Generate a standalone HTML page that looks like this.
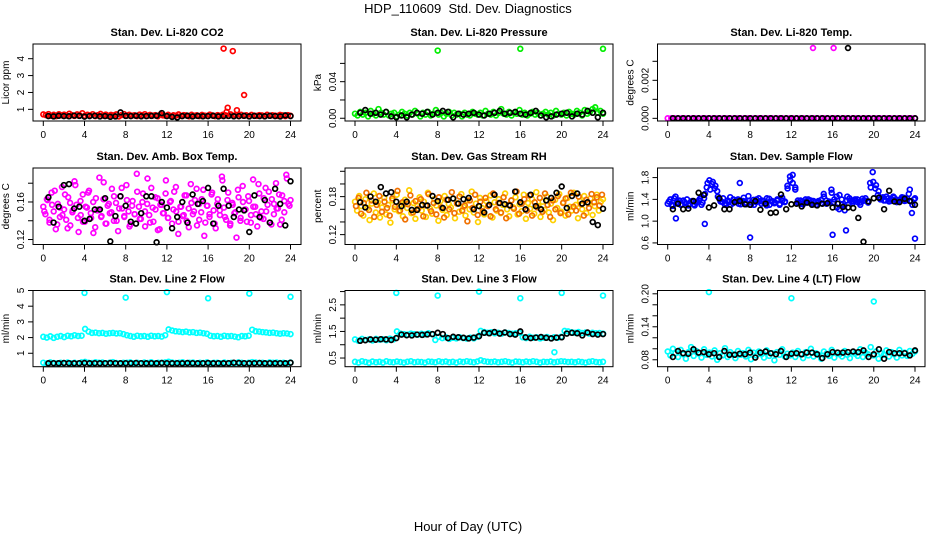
<!DOCTYPE html>
<html><head><meta charset="utf-8"><style>
html,body{margin:0;padding:0;background:#fff;}
svg{display:block;font-family:"Liberation Sans",Arial,sans-serif;}
</style></head><body>
<svg id="chart" width="936" height="540" viewBox="0 0 936 540">
<text x="468" y="13" text-anchor="middle" font-size="13">HDP_110609&#160; Std. Dev. Diagnostics</text>
<text x="468" y="531" text-anchor="middle" font-size="13">Hour of Day (UTC)</text>
</svg>
<script>
// ---- data arrays ----
const xTickLabels = [0,4,8,12,16,20,24];

const co2Red = [0.70,0.66,0.72,0.62,0.68,0.60,0.71,0.64,0.69,0.63,0.74,0.66,0.61,0.70,0.65,0.77,0.62,0.68,0.64,0.71,0.60,0.66,0.73,0.63,
0.69,0.61,0.67,0.64,0.70,0.58,0.66,0.72,0.62,0.68,0.63,0.65,0.60,0.69,0.64,0.71,0.61,0.67,0.63,0.66,0.59,0.70,0.64,0.62,
0.68,0.60,0.65,0.63,0.70,0.61,0.66,0.64,0.59,0.68,0.62,0.65,0.60,0.67,0.63,0.61,0.69,0.64,0.60,0.66,0.62,0.68,0.65,0.61,
0.70,0.63,0.66,0.60,0.68,0.62,0.65,0.59,0.67,0.63,0.61,0.66,0.64,0.60,0.68,0.62,0.65,0.63,0.61,0.67,0.64,0.60,0.66,0.62];
const co2Black = [0.60,0.58,0.62,0.60,0.59,0.63,0.61,0.57,0.60,0.62,0.58,0.60,0.56,0.58,0.82,0.61,0.60,0.62,0.59,0.60,0.61,0.62,0.78,0.60,0.55,0.52,0.60,0.62,0.58,0.61,0.59,0.60,0.62,0.58,0.60,0.61,0.59,0.60,0.62,0.58,0.61,0.60,0.59,0.62,0.60,0.58,0.64,0.60];
const co2OutHours = [17.5,18.4,19.5,17.9,18.8,17.8];
const co2OutVals = [4.6,4.45,1.85,1.1,0.95,0.85];

const presGreen = [0.005,0.003,0.007,0.004,0.006,0.002,0.008,0.005,0.003,0.010,0.006,0.004,0.007,0.003,0.005,0.006,0.002,0.004,0.007,0.005,0.003,0.006,0.004,0.008,
0.005,0.002,0.006,0.004,0.007,0.003,0.005,0.009,0.004,0.006,0.002,0.005,0.007,0.003,0.006,0.004,0.005,0.002,0.006,0.004,0.003,0.007,0.005,0.004,
0.006,0.003,0.008,0.005,0.004,0.007,0.003,0.006,0.010,0.005,0.004,0.007,0.003,0.006,0.005,0.009,0.004,0.006,0.003,0.005,0.007,0.004,0.006,0.003,
0.005,0.007,0.004,0.006,0.003,0.008,0.005,0.004,0.006,0.003,0.007,0.005,0.004,0.008,0.006,0.003,0.009,0.005,0.007,0.010,0.012,0.006,0.008,0.005];
const presBlack = [0.006,0.009,0.005,0.006,0.004,0.007,0.002,0.001,0.003,0.001,0.004,0.006,0.005,0.007,0.004,0.006,0.008,0.007,0.001,0.005,0.004,0.005,0.006,0.004,0.003,0.005,0.006,0.008,0.005,0.006,0.007,0.005,0.004,0.006,0.008,0.003,0.001,0.002,0.004,0.005,0.006,0.002,0.005,0.004,0.008,0.006,0.001,0.006];
const presOutHours = [8,16,24];
const presOutVals = [0.074,0.076,0.076];

const tempMagenta = [0,0,0,0,0,0,0,0,0,0,0,0,0,0,0,0,0,0,0,0,0,0,0,0,0,0,0,0,0,0,0,0,0,0,0,0,0,0,0,0,0,0,0,0,0,0,0,0,0,0,0,0,0,0,0,0,0,0,0,0,0,0,0,0,0,0,0,0,0,0,0,0];
const tempBlack = [0,0,0,0,0,0,0,0,0,0,0,0,0,0,0,0,0,0,0,0,0,0,0,0,0,0,0,0,0,0,0,0,0,0,0,0,0,0,0,0,0,0,0,0,0,0,0,0];
const tempOutHours = [14.1,16.1];
const tempOutVals = [0.0037,0.0037];
const tempBlackOutHours = [17.5];
const tempBlackOutVals = [0.0037];

const boxA = [0.155,0.147,0.162,0.138,0.170,0.150,0.131,0.158,0.144,0.176,0.152,0.141,0.165,0.135,0.149,0.182,0.157,0.128,0.146,0.168,
0.139,0.154,0.172,0.143,0.160,0.133,0.151,0.186,0.145,0.163,0.137,0.156,0.148,0.174,0.140,0.159,0.129,0.166,0.153,0.144,
0.178,0.150,0.136,0.161,0.147,0.190,0.155,0.142,0.169,0.134,0.158,0.146,0.175,0.139,0.152,0.164,0.131,0.157,0.148,0.183,
0.143,0.160,0.137,0.171,0.150,0.126,0.155,0.145,0.167,0.140,0.153,0.179,0.147,0.162,0.135,0.158,0.149,0.173,0.138,0.156,
0.144,0.168,0.151,0.132,0.163,0.146,0.187,0.154,0.141,0.170,0.137,0.159,0.148,0.122,0.165,0.143,0.177,0.152,0.139,0.161,
0.146,0.184,0.155,0.134,0.169,0.150,0.142,0.175,0.157,0.138,0.163,0.147,0.180,0.153,0.136,0.167,0.149,0.189,0.158,0.162];
const boxB = [0.150,0.163,0.141,0.157,0.172,0.136,0.154,0.146,0.168,0.132,0.159,0.151,0.178,0.143,0.161,0.139,0.155,0.170,0.148,0.127,0.164,0.152,0.144,0.181,
0.137,0.158,0.149,0.166,0.140,0.153,0.175,0.145,0.162,0.134,0.156,0.147,0.171,0.142,0.160,0.150,0.185,0.138,0.154,0.165,0.130,0.157,0.148,0.169,
0.143,0.161,0.152,0.176,0.139,0.155,0.146,0.167,0.133,0.159,0.150,0.174,0.141,0.163,0.124,0.156,0.147,0.170,0.137,0.158,0.151,0.183,0.144,0.162,
0.135,0.157,0.149,0.173,0.140,0.160,0.152,0.166,0.138,0.155,0.147,0.179,0.143,0.164,0.150,0.171,0.136,0.158,0.153,0.168,0.141,0.161,0.185,0.156];
const boxBlack = [0.165,0.138,0.155,0.178,0.179,0.153,0.155,0.140,0.142,0.152,0.152,0.164,0.118,0.145,0.166,0.156,0.139,0.137,0.148,0.166,0.166,0.117,0.160,0.154,0.132,0.144,0.160,0.138,0.168,0.158,0.161,0.175,0.137,0.156,0.174,0.156,0.144,0.152,0.151,0.128,0.167,0.144,0.162,0.138,0.174,0.158,0.135,0.182];

const rhA = [0.172,0.158,0.181,0.165,0.150,0.176,0.162,0.143,0.169,0.185,0.155,0.171,0.147,0.163,0.178,0.152,0.167,0.139,0.174,0.160,
0.183,0.157,0.168,0.149,0.175,0.162,0.190,0.154,0.170,0.145,0.165,0.179,0.158,0.172,0.148,0.186,0.161,0.153,0.176,0.166,
0.142,0.173,0.159,0.181,0.151,0.168,0.163,0.177,0.146,0.170,0.156,0.184,0.164,0.150,0.174,0.160,0.188,0.155,0.169,0.140,
0.178,0.162,0.152,0.173,0.166,0.182,0.147,0.171,0.158,0.176,0.154,0.167,0.185,0.160,0.149,0.174,0.163,0.179,0.152,0.168,
0.157,0.183,0.145,0.170,0.161,0.176,0.153,0.187,0.165,0.148,0.172,0.159,0.180,0.155,0.169,0.143,0.175,0.162,0.184,0.156,
0.171,0.150,0.178,0.164,0.158,0.186,0.167,0.146,0.173,0.160,0.181,0.154,0.169,0.177,0.151,0.165,0.183,0.158,0.172,0.176];
const rhB = [0.165,0.178,0.153,0.170,0.186,0.159,0.174,0.148,0.167,0.181,0.156,0.172,0.162,0.150,0.177,0.164,0.189,0.158,0.171,0.144,0.168,0.182,0.155,0.173,
0.161,0.176,0.149,0.166,0.184,0.157,0.170,0.152,0.179,0.163,0.147,0.175,0.160,0.187,0.154,0.169,0.180,0.158,0.166,0.141,0.174,0.162,0.183,0.151,
0.172,0.157,0.178,0.165,0.149,0.185,0.160,0.170,0.155,0.179,0.146,0.167,0.174,0.161,0.188,0.153,0.169,0.176,0.158,0.182,0.150,0.171,0.163,0.178,
0.156,0.185,0.167,0.148,0.174,0.160,0.181,0.154,0.170,0.177,0.152,0.186,0.164,0.158,0.180,0.168,0.150,0.175,0.162,0.184,0.171,0.179,0.166,0.183];
const rhBlack = [0.171,0.163,0.180,0.172,0.195,0.185,0.187,0.172,0.165,0.172,0.159,0.159,0.167,0.166,0.181,0.173,0.162,0.175,0.177,0.169,0.176,0.178,0.160,0.165,0.155,0.167,0.183,0.170,0.168,0.166,0.188,0.171,0.160,0.183,0.165,0.160,0.174,0.178,0.186,0.196,0.162,0.181,0.185,0.169,0.171,0.140,0.135,0.161];

const flowBlue = [1.32,1.40,1.28,1.45,1.35,1.30,1.38,1.33,1.29,1.36,1.31,1.34,1.38,1.30,1.42,
1.62,1.75,1.68,1.60,1.55,
1.40,1.35,1.30,1.38,1.44,1.33,1.36,1.40,1.31,1.37,1.34,1.46,1.30,1.39,1.35,1.42,1.32,1.37,1.29,1.41,1.36,1.33,1.38,1.30,1.43,1.35,
1.65,1.82,1.70,1.58,
1.34,1.38,1.31,1.36,1.40,1.33,1.37,1.30,1.35,1.39,1.45,1.32,1.36,
1.52,1.40,1.25,1.48,1.30,1.20,1.45,
1.38,1.33,1.40,1.35,1.30,1.37,1.42,1.34,
1.62,1.72,1.66,1.55,
1.42,1.38,1.45,1.36,1.40,1.43,1.35,1.39,1.44,1.37,1.41,1.58,1.30,1.42];
const flowBlueB = [1.36,1.30,1.42,1.33,1.38,1.31,1.35,1.40,1.32,1.37,1.29,1.36,1.41,1.34,1.50,
1.70,1.58,1.72,1.65,1.45,
1.36,1.42,1.33,1.35,1.30,1.40,1.38,1.32,1.36,1.43,1.31,1.37,1.34,1.30,1.40,1.36,1.38,1.33,1.42,1.30,1.37,1.35,1.40,1.32,1.38,1.36,
1.60,1.75,1.85,1.62,
1.38,1.32,1.36,1.40,1.34,1.38,1.31,1.35,1.37,1.33,1.50,1.38,1.34,
1.58,1.35,1.45,1.22,1.40,1.28,1.38,
1.42,1.36,1.38,1.40,1.34,1.41,1.38,1.36,
1.70,1.90,1.60,1.48,
1.40,1.44,1.38,1.42,1.37,1.45,1.40,1.36,1.41,1.43,1.38,1.50,1.36,1.40];
const flowOutHours = [0.8,3.6,8.0,16.0,17.3,24.0,7.0,23.7];
const flowOutVals = [1.05,0.95,0.70,0.75,0.83,0.68,1.70,1.15];
const flowBlack = [1.22,1.32,1.22,1.23,1.37,1.52,1.48,1.25,1.29,1.42,1.22,1.22,1.35,1.37,1.31,1.30,1.37,1.21,1.32,1.15,1.16,1.49,1.22,1.31,1.32,1.27,1.34,1.30,1.29,1.32,1.33,1.25,1.32,1.26,1.25,1.24,1.06,0.62,1.36,1.42,1.43,1.22,1.56,1.36,1.35,1.41,1.37,1.30];

const line2Upper = [2.05,2.00,2.08,1.98,2.05,2.10,2.03,2.12,2.08,2.15,2.10,2.12,
2.55,2.38,2.30,2.32,2.28,2.30,2.25,2.28,2.30,2.26,2.28,2.22,
2.15,2.10,2.05,2.12,2.08,2.10,2.05,2.12,2.08,2.10,2.06,2.15,
2.52,2.45,2.40,2.38,2.35,2.38,2.33,2.35,2.30,2.32,2.28,2.25,
2.12,2.08,2.10,2.05,2.12,2.08,2.10,2.06,2.02,2.10,2.08,2.12,
2.50,2.40,2.38,2.35,2.33,2.30,2.32,2.28,2.25,2.28,2.26,2.22];
const line2Lower = [0.40,0.35,0.42,0.38,0.36,0.40,0.37,0.41,0.36,0.39,0.35,0.42,0.45,0.40,0.38,0.43,0.39,0.41,0.37,0.40,0.44,0.38,0.36,0.40,
0.39,0.42,0.37,0.40,0.36,0.41,0.38,0.43,0.37,0.40,0.39,0.42,0.46,0.41,0.38,0.40,0.43,0.37,0.39,0.41,0.36,0.40,0.38,0.42,
0.37,0.40,0.39,0.36,0.41,0.38,0.40,0.37,0.42,0.39,0.36,0.40,0.44,0.41,0.38,0.40,0.37,0.42,0.39,0.41,0.38,0.40,0.37,0.41];
const line2Black = [0.36,0.37,0.36,0.38,0.37,0.36,0.37,0.38,0.36,0.37,0.36,0.37,0.38,0.37,0.36,0.37,0.36,0.38,0.37,0.36,0.37,0.36,0.38,0.37,0.36,0.37,0.36,0.38,0.37,0.36,0.37,0.38,0.36,0.37,0.36,0.37,0.40,0.38,0.37,0.36,0.37,0.38,0.36,0.37,0.36,0.37,0.36,0.40];
const line2OutHours = [4,8,12,16,20,24];
const line2OutVals = [4.85,4.55,4.9,4.5,4.8,4.6];

const line3Upper = [1.20,1.15,1.22,1.18,1.20,1.16,1.22,1.19,1.21,1.17,1.23,1.20,
1.50,1.42,1.40,1.38,1.42,1.40,1.38,1.41,1.39,1.43,1.40,1.18,
1.30,1.25,1.28,1.22,1.26,1.24,1.28,1.25,1.23,1.27,1.24,1.30,
1.52,1.48,1.45,1.47,1.43,1.45,1.42,1.46,1.44,1.41,1.43,1.45,
1.28,1.25,1.30,1.26,1.28,1.24,1.27,1.29,1.25,1.28,1.26,1.30,
1.52,1.50,1.47,1.45,1.48,1.44,1.46,1.42,1.45,1.43,1.44,1.42];
const line3Lower = [0.36,0.33,0.38,0.35,0.32,0.37,0.34,0.36,0.33,0.38,0.35,0.34,0.37,0.35,0.33,0.36,0.38,0.34,0.36,0.35,0.33,0.37,0.36,0.34,
0.38,0.35,0.37,0.34,0.36,0.33,0.37,0.35,0.38,0.36,0.34,0.37,0.42,0.38,0.36,0.35,0.37,0.34,0.36,0.38,0.35,0.33,0.37,0.36,
0.34,0.37,0.35,0.38,0.36,0.33,0.36,0.35,0.37,0.34,0.36,0.38,0.37,0.35,0.36,0.34,0.37,0.35,0.33,0.36,0.38,0.35,0.34,0.36];
const line3Black = [1.15,1.17,1.20,1.19,1.21,1.20,1.18,1.25,1.38,1.36,1.35,1.38,1.37,1.39,1.40,1.45,1.40,1.25,1.30,1.28,1.26,1.24,1.27,1.32,1.45,1.43,1.48,1.42,1.46,1.40,1.38,1.50,1.28,1.25,1.27,1.29,1.26,1.24,1.27,1.28,1.42,1.45,1.43,1.35,1.46,1.40,1.38,1.40];
const line3OutHours = [4,8,12,16,20,24,19.3];
const line3OutVals = [2.95,2.85,3.0,2.75,2.95,2.85,0.72];

const line4Cyan = [0.095,0.088,0.100,0.092,0.085,0.098,0.090,0.082,0.094,0.103,0.087,0.096,0.091,0.084,0.099,0.089,0.093,0.086,0.097,0.080,0.092,0.088,0.101,0.085,
0.094,0.090,0.083,0.096,0.089,0.092,0.086,0.098,0.081,0.093,0.088,0.095,0.090,0.084,0.097,0.087,0.092,0.079,0.094,0.089,0.099,0.086,0.091,0.088,
0.093,0.085,0.096,0.090,0.083,0.094,0.088,0.100,0.086,0.092,0.089,0.082,0.095,0.091,0.087,0.098,0.084,0.093,0.090,0.086,0.096,0.089,0.083,0.094,
0.091,0.087,0.099,0.085,0.093,0.090,0.103,0.088,0.095,0.082,0.092,0.089,0.097,0.086,0.094,0.090,0.084,0.098,0.088,0.093,0.087,0.096,0.091,0.095];
const line4Black = [0.085,0.096,0.092,0.091,0.099,0.093,0.094,0.090,0.092,0.085,0.096,0.089,0.089,0.091,0.090,0.093,0.084,0.093,0.095,0.092,0.090,0.096,0.085,0.091,0.092,0.090,0.093,0.093,0.090,0.083,0.090,0.094,0.093,0.093,0.094,0.095,0.094,0.097,0.085,0.090,0.099,0.082,0.094,0.092,0.092,0.092,0.088,0.097];
const line4OutHours = [4,12,20];
const line4OutVals = [0.203,0.192,0.186];

const yTickVals = [[1,2,3,4],[0,0.02,0.04,0.06],[0,0.001,0.002,0.003],
 [0.12,0.14,0.16,0.18],[0.12,0.14,0.16,0.18,0.20,0.22],[0.6,1.0,1.4,1.8],
 [1,2,3,4,5],[0.5,1.0,1.5,2.0,2.5,3.0],[0.08,0.10,0.12,0.14,0.16,0.18,0.20]];
const yTickLabels = [["1","2","3","4"],["0.00","","0.04",""],["0.000","","0.002",""],
 ["0.12","","0.16",""],["0.12","","","0.18","",""],["0.6","1.0","1.4","1.8"],
 ["1","2","3","4","5"],["0.5","","1.5","","2.5",""],["0.08","","","0.14","","","0.20"]];
const panelTitles = ["Stan. Dev. Li-820 CO2","Stan. Dev. Li-820 Pressure","Stan. Dev. Li-820 Temp.",
 "Stan. Dev. Amb. Box Temp.","Stan. Dev. Gas Stream RH","Stan. Dev. Sample Flow",
 "Stan. Dev. Line 2 Flow","Stan. Dev. Line 3 Flow","Stan. Dev. Line 4 (LT) Flow"];
const yAxisTitles = ["Licor ppm","kPa","degrees C","degrees C","percent","ml/min","ml/min","ml/min","ml/min"];
const yLimits = [[0.31,4.87],[-0.003,0.0812],[-0.00014,0.00391],[0.1147,0.1962],[0.1044,0.2252],[0.571,1.976],[0.144,5.0],[0.174,3.04],[0.0674,0.206]];

// ---- layout ----
const cols = [{h0:43.3,h24:290.5,l:33,r:301},{h0:355,h24:603,l:345,r:613},{h0:667.7,h24:915,l:657.5,r:925}];
const rows = [{t:44,b:121},{t:168,b:244.5},{t:290.5,b:366.7}];
const NS = "http://www.w3.org/2000/svg";
const svg = document.getElementById('chart');
function mk(tag, attrs, parent){ const e=document.createElementNS(NS,tag); for(const k in attrs) e.setAttribute(k,attrs[k]); (parent||svg).appendChild(e); return e; }

const seriesByPanel = [
 [{v:co2Red,c:"#ff0000",s:0,e:24},{v:co2Black,c:"#000",s:0.5,e:24},{h:co2OutHours,v:co2OutVals,c:"#ff0000"}],
 [{v:presGreen,c:"#00ee00",s:0,e:24},{v:presBlack,c:"#000",s:0.5,e:24},{h:presOutHours,v:presOutVals,c:"#00ee00"}],
 [{v:tempMagenta,c:"#ff00ff",s:0,e:24},{v:tempBlack,c:"#000",s:0.5,e:24},{h:tempOutHours,v:tempOutVals,c:"#ff00ff"},{h:tempBlackOutHours,v:tempBlackOutVals,c:"#000"}],
 [{v:boxA,c:"#ff00ff",s:0,e:24},{v:boxB,c:"#ff00ff",s:0.1,e:23.9},{v:boxBlack,c:"#000",s:0.5,e:24}],
 [{v:rhA,c:"#ffd000",s:0,e:24},{v:rhB,c:"#f07000",s:0.1,e:23.9},{v:rhBlack,c:"#000",s:0.5,e:24}],
 [{v:flowBlue,c:"#0000ff",s:0,e:24},{v:flowBlueB,c:"#0000ff",s:0.12,e:23.9},{h:flowOutHours,v:flowOutVals,c:"#0000ff"},{v:flowBlack,c:"#000",s:0.5,e:24}],
 [{v:line2Upper,c:"#00ffff",s:0,e:24},{v:line2Lower,c:"#00ffff",s:0,e:24},{h:line2OutHours,v:line2OutVals,c:"#00ffff"},{v:line2Black,c:"#000",s:0.5,e:24}],
 [{v:line3Upper,c:"#00ffff",s:0,e:24},{v:line3Lower,c:"#00ffff",s:0,e:24},{h:line3OutHours,v:line3OutVals,c:"#00ffff"},{v:line3Black,c:"#000",s:0.5,e:24}],
 [{v:line4Cyan,c:"#00ffff",s:0,e:24},{h:line4OutHours,v:line4OutVals,c:"#00ffff"},{v:line4Black,c:"#000",s:0.5,e:24}]
];

for(let p=0;p<9;p++){
  const C=cols[p%3], R=rows[Math.floor(p/3)];
  const [y0,y1]=yLimits[p];
  const xs=h=>C.h0+(C.h24-C.h0)*h/24;
  const ys=v=>R.b-(v-y0)/(y1-y0)*(R.b-R.t);
  const g=mk('g',{});
  
  
  const title=mk('text',{x:(C.l+C.r)/2,y:R.t-8,'text-anchor':'middle','font-size':11,'font-weight':'bold'},g);
  title.textContent=panelTitles[p];
  
  
  const plot=mk('g',{},g);
  
  
  seriesByPanel[p].forEach((s,si)=>{
    const sg=mk('g',{fill:'none',stroke:s.c,'stroke-width':1.7},plot);
    
    
    s.v.forEach((v,i)=>{
      const h = s.h ? s.h[i] : s.s+(s.e-s.s)*i/(s.v.length-1);
      const c=mk('circle',{cx:xs(h).toFixed(1),cy:ys(v).toFixed(1),r:2.4},sg);
      
      
    });
  });
  const box=mk('rect',{x:C.l,y:R.t,width:C.r-C.l,height:R.b-R.t,fill:'none',stroke:'#000','stroke-width':1},g);
  
  
  const xa=mk('g',{stroke:'#000','stroke-width':1},g);
  
  
  mk('line',{x1:xs(0),x2:xs(24),y1:R.b,y2:R.b},xa);
  xTickLabels.forEach(t=>{
    mk('line',{x1:xs(t),x2:xs(t),y1:R.b,y2:R.b+5},xa);
    const tl=mk('text',{x:xs(t),y:R.b+17,'text-anchor':'middle','font-size':10,stroke:'none',fill:'#000'},xa);
    tl.textContent=t;
    
    
  });
  const ya=mk('g',{stroke:'#000','stroke-width':1},g);
  
  
  const tv=yTickVals[p];
  mk('line',{x1:C.l,x2:C.l,y1:ys(tv[0]),y2:ys(tv[tv.length-1])},ya);
  tv.forEach((t,i)=>{
    const y=ys(t);
    mk('line',{x1:C.l-5,x2:C.l,y1:y,y2:y},ya);
    if(yTickLabels[p][i]){
      const tl=mk('text',{x:0,y:0,transform:`translate(${C.l-9},${y}) rotate(-90)`,'text-anchor':'middle','font-size':10,stroke:'none',fill:'#000'},ya);
      tl.textContent=yTickLabels[p][i];
      
      
    }
  });
  const yt=mk('text',{x:0,y:0,transform:`translate(${C.l-24},${(R.t+R.b)/2}) rotate(-90)`,'text-anchor':'middle','font-size':10},g);
  yt.textContent=yAxisTitles[p];
  
  
}
</script>
</body></html>
